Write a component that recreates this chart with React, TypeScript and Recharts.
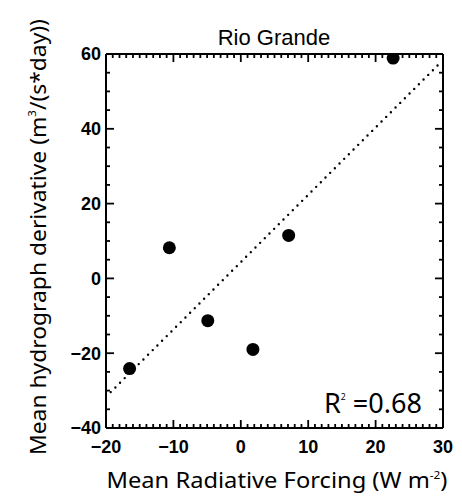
import React from 'react';
import { ScatterChart, Scatter, XAxis, YAxis, ReferenceLine, Label } from 'recharts';

// ---- data ----
const forcing = [-16.5, -10.6, -4.9, 1.8, 7.1, 22.6];
const derivative = [-24.1, 8.2, -11.3, -19.0, 11.5, 58.9];
const xMajorTicks = [-20, -10, 0, 10, 20, 30];
const yMajorTicks = [-40, -20, 0, 20, 40, 60];
const fitStart = { x: -19.3, y: -30.4 };
const fitEnd = { x: 29.8, y: 58.0 };
const titleText = 'Rio Grande';
const r2Text = '0.68';

const points = forcing.map((x, i) => ({ x, y: derivative[i] }));

const X_MIN = -20, X_MAX = 30, Y_MIN = -40, Y_MAX = 60;
const xMinorTicks: number[] = [];
for (let v = X_MIN; v <= X_MAX; v += 1) xMinorTicks.push(v);
const yMinorTicks: number[] = [];
for (let v = Y_MIN; v <= Y_MAX; v += 5) yMinorTicks.push(v);

// ---- layout ----
const W = 454;
const H = 490;
const PLOT_LEFT = 98;
const PLOT_RIGHT = 435;
const PLOT_TOP = 46;
const PLOT_BOTTOM = 420;
const MAJOR_PX = 8;
const MINOR_PX = 4;
const TICK_FONT = "'Liberation Sans', Arial, sans-serif";
const TEXT_FONT = "'Noto Sans', sans-serif";

// tick lengths expressed in data units so the library's scales draw them
const xPxPerUnit = (PLOT_RIGHT - PLOT_LEFT) / (X_MAX - X_MIN);
const yPxPerUnit = (PLOT_BOTTOM - PLOT_TOP) / (Y_MAX - Y_MIN);

const fmt = (v: number) => (v < 0 ? '\u2212' + Math.abs(v) : String(v));

const BottomTick = (p: any) => {
  const v = p.payload.value;
  if (!xMajorTicks.includes(v)) return <g />;
  return (
    <text x={p.x} y={PLOT_BOTTOM + 19} dy="0.35em" textAnchor="middle" fontFamily={TICK_FONT} fontWeight="bold" fontSize={18} fill="#000">
      {fmt(v)}
    </text>
  );
};

const LeftTick = (p: any) => {
  const v = p.payload.value;
  if (!yMajorTicks.includes(v)) return <g />;
  return (
    <text x={PLOT_LEFT - 5} y={p.y} dy="0.35em" textAnchor="end" fontFamily={TICK_FONT} fontWeight="bold" fontSize={18} fill="#000">
      {fmt(v)}
    </text>
  );
};

const Dot = (p: any) => <circle cx={p.cx} cy={p.cy} r={6.5} fill="#000" />;

const axisLine = { stroke: '#000', strokeWidth: 2 };

const tickSegments: { key: string; seg: { x: number; y: number }[] }[] = [];
xMinorTicks.forEach((v) => {
  const len = (xMajorTicks.includes(v) ? MAJOR_PX : MINOR_PX) / yPxPerUnit;
  tickSegments.push({ key: 'b' + v, seg: [{ x: v, y: Y_MIN }, { x: v, y: Y_MIN + len }] });
  tickSegments.push({ key: 't' + v, seg: [{ x: v, y: Y_MAX }, { x: v, y: Y_MAX - len }] });
});
yMinorTicks.forEach((v) => {
  const len = (yMajorTicks.includes(v) ? MAJOR_PX : MINOR_PX) / xPxPerUnit;
  tickSegments.push({ key: 'l' + v, seg: [{ x: X_MIN, y: v }, { x: X_MIN + len, y: v }] });
  tickSegments.push({ key: 'r' + v, seg: [{ x: X_MAX, y: v }, { x: X_MAX - len, y: v }] });
});

export default function App() {
  return (
    <ScatterChart width={W} height={H} margin={{ top: 0, right: 0, bottom: 0, left: 0 }}>
      <XAxis
        type="number"
        dataKey="x"
        domain={[X_MIN, X_MAX]}
        ticks={xMinorTicks}
        interval={0}
        tickLine={false}
        axisLine={axisLine}
        tick={BottomTick}
        height={H - PLOT_BOTTOM}
        allowDataOverflow
      />
      <XAxis
        xAxisId="top"
        orientation="top"
        type="number"
        domain={[X_MIN, X_MAX]}
        ticks={xMajorTicks}
        tickLine={false}
        tick={false}
        axisLine={axisLine}
        height={PLOT_TOP}
        allowDataOverflow
      />
      <YAxis
        type="number"
        dataKey="y"
        domain={[Y_MIN, Y_MAX]}
        ticks={yMinorTicks}
        interval={0}
        tickLine={false}
        axisLine={axisLine}
        tick={LeftTick}
        width={PLOT_LEFT}
        allowDataOverflow
      />
      <YAxis
        yAxisId="right"
        orientation="right"
        type="number"
        domain={[Y_MIN, Y_MAX]}
        ticks={yMajorTicks}
        tickLine={false}
        tick={false}
        axisLine={axisLine}
        width={W - PLOT_RIGHT}
        allowDataOverflow
      />
      {tickSegments.map((t) => (
        <ReferenceLine key={t.key} segment={t.seg} stroke="#000" strokeWidth={1.8} ifOverflow="visible" />
      ))}
      <ReferenceLine
        segment={[fitStart, fitEnd]}
        stroke="#000"
        strokeWidth={2.4}
        strokeDasharray="0 6.6"
        strokeLinecap="round"
        ifOverflow="visible"
      >
        <Label
          content={() => (
            <g>
              <text x={266} y={37} textAnchor="middle" fontFamily={TICK_FONT} fontSize={22} fill="#000">
                {titleText}
              </text>
              <text x={269} y={480} textAnchor="middle" fontFamily={TEXT_FONT} fontSize={22} fill="#000" textLength={341} lengthAdjust="spacingAndGlyphs">
                Mean Radiative Forcing (W m
                <tspan dy={-9} fontSize={11}>-2</tspan>
                <tspan dy={9}>)</tspan>
              </text>
              <text
                transform="translate(38,229) rotate(-90)"
                textAnchor="middle"
                fontFamily={TEXT_FONT}
                fontSize={22}
                fill="#000"
                textLength={436}
                lengthAdjust="spacingAndGlyphs"
              >
                Mean hydrograph derivative (m
                <tspan dy={-10} fontSize={11}>3</tspan>
                <tspan dy={10}>/(s*day))</tspan>
              </text>
              <text x={316} y={405} fontFamily={TEXT_FONT} fontSize={28} fill="#000" textLength={98} lengthAdjust="spacingAndGlyphs">
                R
                <tspan dy={-13} fontSize={9}>2</tspan>
                <tspan dy={13}>{' =' + r2Text}</tspan>
              </text>
            </g>
          )}
        />
      </ReferenceLine>
      <Scatter data={points} shape={Dot} isAnimationActive={false} />
    </ScatterChart>
  );
}
